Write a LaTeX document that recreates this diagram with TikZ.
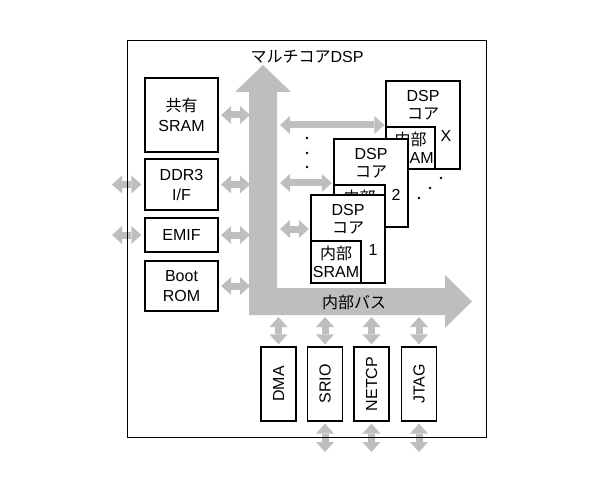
\documentclass[tikz,border=0pt]{standalone}
\usepackage{fontspec}
\setmainfont{Liberation Sans}
\newfontfamily\jp{Noto Sans CJK JP}
\usetikzlibrary{arrows.meta}
\definecolor{busgray}{HTML}{BEBEBE}
\newcommand\blkfont{\fontsize{16}{20}\selectfont}
\newcommand\corefont{\fontsize{16}{18}\selectfont}
\tikzset{
  blk/.style={draw, line width=1.3pt, fill=white, inner sep=0pt, align=center, font=\blkfont},
  corebox/.style={draw, line width=1.3pt, fill=white, inner sep=0pt, minimum width=74pt, minimum height=88pt},
  innerbox/.style={draw, line width=1.3pt, fill=white, inner sep=0pt, align=center, font=\corefont, minimum width=50pt, minimum height=42pt, anchor=south west},
  coretxt/.style={inner sep=0pt, align=center, font=\corefont},
  numtxt/.style={inner sep=0pt, font=\blkfont},
  vblk/.style={blk, rotate=90, minimum width=74pt, minimum height=35pt},
  dbl/.style={draw=busgray, line width=7pt,
    {Triangle[width=18pt,length=10pt,line width=0pt]}-{Triangle[width=18pt,length=10pt,line width=0pt]}},
  dotmark/.style={fill=black},
}
\begin{document}
\begin{tikzpicture}[x=1pt,y=-1pt]
\useasboundingbox (0,0) rectangle (596,494);

% internal bus
\fill[busgray] (263,65) -- (291,92) -- (277,92) -- (277,288) -- (445,288) -- (445,275)
  -- (472,301.5) -- (445,328) -- (445,315) -- (249,315) -- (249,92) -- (235,92) -- cycle;
\node (title) [inner sep=0pt, font=\blkfont] at (307,57) {{\jp マルチコア}DSP};
\node (buslbl) [inner sep=0pt, font=\blkfont] at (354,302) {\jp 内部バス};

\coordinate (busL) at (250,0);
\coordinate (busR) at (277,0);
\coordinate (extL) at (112,0);
\coordinate (busB) at (0,315);
\coordinate (extB) at (0,452);

% left blocks
\node (sram) [blk, minimum width=73pt, minimum height=74pt] at (181.5,115) {{\jp 共有}\\SRAM};
\node (ddr)  [blk, minimum width=73pt, minimum height=51pt] at (181.5,184.5) {DDR3\\I/F};
\node (emif) [blk, minimum width=73pt, minimum height=34pt] at (181.5,235) {EMIF};
\node (boot) [blk, minimum width=73pt, minimum height=50pt] at (181.5,286) {Boot\\ROM};

% DSP cores
\node (coreX) [corebox] at (423,125) {};
\node (coreXt) [coretxt] at ([yshift=-25pt]coreX.north) {DSP\\{\jp コア}};
\node (coreXs) [innerbox, minimum width=49pt] at (coreX.south west) {{\jp 内部}\\SRAM};
\node (coreXn) [numtxt] at (446,136) {X};

\node (core2) [corebox] at (371,183) {};
\node (core2t) [coretxt] at ([yshift=-25pt]core2.north) {DSP\\{\jp コア}};
\node (core2s) [innerbox, minimum width=51pt] at (core2.south west) {{\jp 内部}\\SRAM};
\node (core2n) [numtxt] at (396,195) {2};

\node (core1) [corebox] at (348,239) {};
\node (core1t) [coretxt] at ([yshift=-25pt]core1.north) {DSP\\{\jp コア}};
\node (core1s) [innerbox] at (core1.south west) {{\jp 内部}\\SRAM};
\node (core1n) [numtxt] at (373,250) {1};

% bottom blocks
\node (dma)   [vblk] at (278.5,384) {DMA};
\node (srio)  [vblk] at (325,384) {SRIO};
\node (netcp) [vblk] at (371.5,384) {NETCP};
\node (jtag)  [vblk] at (419,384) {JTAG};

% connectors
\draw[dbl, shorten <=2.5pt] (sram) -- (sram -| busL);
\draw[dbl, shorten <=2.5pt] (ddr) -- (ddr -| busL);
\draw[dbl, shorten <=2.5pt] (emif) -- (emif -| busL);
\draw[dbl, shorten <=2.5pt] (boot) -- (boot -| busL);
\draw[dbl, shorten <=3pt] (ddr) -- (ddr -| extL);
\draw[dbl, shorten <=3pt] (emif) -- (emif -| extL);

\draw[dbl, shorten <=1pt, shorten >=3pt] (coreX) -- (coreX -| busR);
\draw[dbl, shorten <=1.5pt, shorten >=3pt] (core2) -- (core2 -| busR);
\coordinate (c1in) at ([yshift=10pt]core1.west);
\draw[dbl, shorten <=1.5pt, shorten >=3pt] (c1in) -- (c1in -| busR);

\draw[dbl, shorten <=2pt, shorten >=2pt] (dma) -- (dma |- busB);
\draw[dbl, shorten <=2pt, shorten >=2pt] (srio) -- (srio |- busB);
\draw[dbl, shorten <=2pt, shorten >=2pt] (netcp) -- (netcp |- busB);
\draw[dbl, shorten <=2pt, shorten >=2pt] (jtag) -- (jtag |- busB);
\draw[dbl, shorten <=2pt] (srio) -- (srio |- extB);
\draw[dbl, shorten <=2pt] (netcp) -- (netcp |- extB);
\draw[dbl, shorten <=2pt] (jtag) -- (jtag |- extB);

% dots
\fill[dotmark] (307,138) circle (1.3pt);
\fill[dotmark] (307,153) circle (1.3pt);
\fill[dotmark] (307,167) circle (1.3pt);
\fill[dotmark] (441,178) circle (1.3pt);
\fill[dotmark] (430,188) circle (1.3pt);
\fill[dotmark] (419,198) circle (1.3pt);

% chip outline
\node (chip) [draw, line width=1pt, inner sep=0pt, minimum width=359pt, minimum height=396pt] at (306.5,239) {};
\end{tikzpicture}
\end{document}
